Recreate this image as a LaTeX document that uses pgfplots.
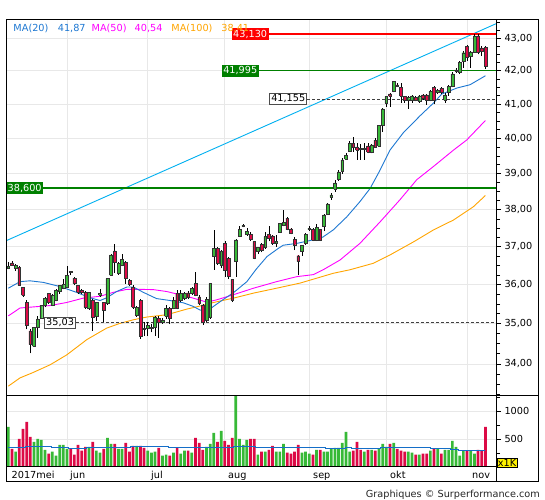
\documentclass[border=0pt]{standalone}
\usepackage{fontspec}
\setmainfont{DejaVu Sans}
\usepackage{pgfplots}
\usepackage{pgfplotstable}
\pgfplotsset{compat=1.18}
\definecolor{cg}{RGB}{55,185,55}
\definecolor{cr}{RGB}{220,10,70}
\definecolor{gridc}{RGB}{232,232,232}
\definecolor{ma20}{RGB}{30,120,210}
\definecolor{ma50}{RGB}{255,0,255}
\definecolor{ma100}{RGB}{255,165,0}
\definecolor{trend}{RGB}{0,176,240}
\definecolor{dgreen}{RGB}{0,128,0}
\definecolor{lred}{RGB}{255,0,0}
\definecolor{volma}{RGB}{20,110,200}
\newcommand\fs{\fontsize{9.7bp}{11bp}\selectfont}

\pgfplotstableread{
i O H L C V
0 36.43 36.59 36.40 36.48 720
1 36.57 36.61 36.48 36.50 327
2 36.42 36.54 36.37 36.50 274
3 36.46 36.48 35.97 35.98 506
4 35.94 35.95 35.68 35.73 684
5 35.55 35.60 34.86 34.95 809
6 34.82 34.86 34.26 34.48 541
7 34.43 34.92 34.43 34.91 452
8 34.91 35.19 34.65 35.12 506
9 35.14 35.48 35.13 35.47 488
10 35.47 35.68 35.42 35.64 309
11 35.77 35.79 35.51 35.55 238
12 35.48 35.77 35.45 35.73 274
13 35.60 35.90 35.57 35.86 202
14 35.83 36.00 35.77 35.98 399
15 35.90 36.16 35.88 36.00 399
16 35.94 36.50 35.92 36.24 327
17 36.35 36.37 36.24 36.31 327
18 36.17 36.20 35.98 36.03 220
19 35.98 36.00 35.77 35.81 399
20 35.86 35.90 35.75 35.80 292
21 35.81 35.83 35.38 35.42 363
22 35.38 35.82 35.35 35.80 363
23 35.60 35.62 34.82 35.17 452
24 35.19 35.56 35.08 35.54 292
25 35.74 35.90 35.68 35.77 256
26 35.54 35.55 35.04 35.34 327
27 35.51 36.17 35.48 36.16 524
28 36.24 36.80 36.23 36.78 416
29 36.89 37.06 36.31 36.59 416
30 36.29 36.59 36.26 36.55 327
31 36.52 36.80 36.48 36.67 327
32 36.59 36.63 36.03 36.16 434
33 36.11 36.14 35.97 36.00 274
34 35.94 35.98 35.38 35.42 381
35 35.21 35.45 35.18 35.42 381
36 35.60 35.64 34.62 34.69 381
37 34.88 35.04 34.69 34.86 345
38 34.88 35.04 34.70 34.95 292
39 34.89 34.99 34.78 34.91 256
40 34.91 35.19 34.69 35.17 274
41 35.14 35.19 34.65 35.05 345
42 35.04 35.15 35.00 35.08 202
43 35.19 35.48 35.12 35.38 220
44 35.40 35.42 34.99 35.14 202
45 35.38 35.68 35.36 35.60 256
46 35.77 35.86 35.36 35.38 345
47 35.60 35.86 35.55 35.77 238
48 35.64 35.82 35.60 35.77 292
49 35.79 35.83 35.64 35.68 292
50 35.77 35.94 35.73 35.90 256
51 36.03 36.33 35.70 35.73 524
52 35.68 35.73 35.47 35.51 434
53 35.48 35.51 34.97 35.04 309
54 35.08 35.68 35.05 35.62 363
55 35.17 36.03 35.12 36.03 416
56 36.74 37.46 36.39 36.96 613
57 36.96 37.00 36.52 36.56 452
58 36.52 36.90 36.43 36.87 649
59 37.09 37.14 36.21 36.39 470
60 36.69 36.72 36.14 36.21 399
61 36.13 36.15 35.55 35.60 524
62 36.61 37.20 36.21 37.18 1400
63 37.29 37.55 37.26 37.46 506
64 37.54 37.62 37.52 37.58 399
65 37.33 37.50 37.30 37.42 488
66 37.34 37.40 37.15 37.19 506
67 37.14 37.16 36.66 36.69 506
68 36.87 37.00 36.80 36.98 220
69 37.06 37.10 36.85 36.91 274
70 36.98 37.40 36.95 37.27 274
71 37.32 37.55 37.14 37.23 309
72 37.29 37.31 37.05 37.09 381
73 37.09 37.32 37.00 37.15 274
74 37.40 37.64 37.38 37.62 274
75 37.59 37.99 37.55 37.66 416
76 37.77 37.80 37.44 37.46 256
77 37.48 37.50 37.33 37.35 238
78 37.20 37.27 36.91 37.05 274
79 36.76 36.78 36.24 36.61 399
80 36.87 37.05 36.76 37.03 256
81 37.09 37.36 37.05 37.34 274
82 37.46 37.55 37.42 37.50 238
83 37.46 37.50 37.15 37.18 220
84 37.18 37.62 37.15 37.52 309
85 37.46 37.48 37.15 37.18 309
86 37.54 37.88 37.42 37.86 274
87 37.89 38.18 37.85 38.16 274
88 38.36 38.45 38.27 38.41 327
89 38.58 38.82 38.50 38.74 345
90 38.83 39.12 38.80 39.05 345
91 39.08 39.45 39.00 39.39 434
92 39.42 39.60 39.40 39.53 631
93 39.65 39.93 39.62 39.87 274
94 39.87 40.05 39.62 39.76 292
95 39.76 39.87 39.39 39.68 452
96 39.72 39.85 39.40 39.70 309
97 39.70 39.88 39.40 39.73 274
98 39.79 39.86 39.58 39.62 309
99 39.62 39.85 39.58 39.82 309
100 39.96 40.00 39.74 39.76 292
101 39.79 40.40 39.76 40.37 327
102 40.37 40.89 40.20 40.86 416
103 41.03 41.25 40.92 41.23 363
104 41.31 41.33 40.92 41.23 416
105 41.38 41.70 41.35 41.68 434
106 41.58 41.62 41.50 41.53 327
107 41.51 41.63 41.05 41.25 292
108 41.23 41.25 41.05 41.13 274
109 41.13 41.25 40.87 41.21 274
110 41.13 41.28 41.05 41.25 256
111 41.20 41.23 41.08 41.13 220
112 41.10 41.28 41.05 41.25 220
113 41.28 41.30 41.13 41.18 238
114 41.28 41.30 40.98 41.13 238
115 41.13 41.42 41.08 41.38 292
116 41.51 41.55 41.00 41.13 327
117 41.36 41.45 41.30 41.41 327
118 41.48 41.50 41.30 41.36 238
119 41.13 41.33 41.05 41.28 309
120 41.36 41.56 41.25 41.53 309
121 41.53 41.95 41.50 41.91 470
122 42.00 42.08 41.93 42.03 363
123 41.96 42.30 41.90 42.26 202
124 42.28 42.60 42.10 42.55 292
125 42.75 42.80 42.30 42.40 292
126 42.45 42.60 42.10 42.58 292
127 42.57 43.13 42.55 43.07 238
128 43.07 43.13 42.50 42.57 309
129 42.70 42.75 42.45 42.60 292
130 42.72 42.75 42.05 42.13 720
}\ohlc

\pgfplotstableread{
i ma
0 35.91
3.2 36.08
5.9 36.10
9.5 36.06
14.1 35.95
18.6 35.80
22.3 35.66
25.0 35.59
26.8 35.66
29.5 35.82
32.3 35.94
34.1 35.94
36.8 35.80
40.4 35.64
44.1 35.59
47.7 35.53
50.4 35.44
52.2 35.35
54.1 35.31
55.9 35.44
58.6 35.62
61.3 35.79
65.0 36.08
67.5 36.40
70.5 36.74
73.5 36.95
74.9 37.04
78.6 37.09
83.0 37.18
85.7 37.26
88.5 37.45
92.2 37.80
95.8 38.22
98.6 38.59
101.3 39.10
104.0 39.67
107.6 40.16
112.2 40.66
115.8 41.03
118.1 41.30
122.2 41.48
125.8 41.58
130 41.85
}\maA

\pgfplotstableread{
i ma
0 35.20
3.2 35.40
5.9 35.42
11.4 35.46
15.9 35.54
20.4 35.65
25.0 35.70
28.6 35.80
32.3 35.88
35.9 35.88
39.5 35.87
43.2 35.82
46.8 35.74
50.4 35.65
54.1 35.55
56.8 35.61
61.3 35.74
66.8 35.91
73.1 36.08
78.6 36.21
83.1 36.26
85.8 36.39
90.4 36.65
95.8 37.09
101.3 37.67
106.7 38.27
111.3 38.83
115.8 39.20
121.3 39.67
124.9 39.96
130 40.52
}\maB

\pgfplotstableread{
i ma
0 33.46
3.2 33.66
6.8 33.79
11.4 33.98
15.9 34.22
21.4 34.60
26.8 34.89
30.4 35.01
34.1 35.10
37.7 35.17
43.2 35.23
48.6 35.37
52.2 35.45
55.9 35.54
61.3 35.65
66.8 35.78
73.1 35.91
79.5 36.04
88.6 36.30
93.1 36.39
99.5 36.56
104.0 36.78
110.4 37.13
115.8 37.45
121.3 37.72
126.7 38.08
130 38.39
}\maC

\begin{document}
\begin{tikzpicture}[x=1bp,y=1bp]
\useasboundingbox (0,0) rectangle (545,500);
\fill[white] (0,0) rectangle (545,500);

% ---------------- price panel ----------------
\begin{axis}[
  at={(6bp,104.3bp)}, anchor=south west,
  width=490bp, height=375.7bp, scale only axis,
  ymode=log,
  xmin=-0.627, xmax=132.89, ymin=33.23, ymax=43.57,
  axis line style={draw=none},
  xtick={16,38,59,82,103,125}, xticklabels={},
  xtick style={draw=none},
  xmajorgrids, ymajorgrids,
  grid style={line width=0.8bp, color=gridc},
  ytick={34,35,36,37,38,39,40,41,42,43},
  yticklabels={{34,00},{35,00},{36,00},{37,00},{38,00},{39,00},{40,00},{41,00},{42,00},{43,00}},
  minor ytick={33.25,33.5,33.75,34.25,34.5,34.75,35.25,35.5,35.75,36.25,36.5,36.75,37.25,37.5,37.75,38.25,38.5,38.75,39.25,39.5,39.75,40.25,40.5,40.75,41.25,41.5,41.75,42.25,42.5,42.75,43.25,43.5},
  ytick pos=right, yticklabel pos=right,
  tick align=outside,
  major tick length=5bp, minor tick length=4bp,
  ytick style={black, line width=0.8bp},
  yticklabel style={font=\fs, text=black},
]
\addplot[ma100, line width=0.9bp] table[x=i,y=ma] {\maC};
\addplot[ma50, line width=0.9bp] table[x=i,y=ma] {\maB};
\addplot[ma20, line width=0.9bp] table[x=i,y=ma] {\maA};
\addplot[trend, line width=0.9bp] coordinates {(-0.627,37.16) (132.89,43.45)};
\addplot[dgreen, line width=2.7bp] coordinates {(-0.627,38.6) (132.89,38.6)};
\addplot[lred, line width=2bp] coordinates {(71.0,43.13) (132.89,43.13)};
\addplot[dgreen, line width=1bp] coordinates {(68.3,41.995) (132.89,41.995)};
\addplot[black!75, line width=0.8bp, dash pattern=on 3bp off 2bp] coordinates {(81.4,41.155) (132.89,41.155)};
\addplot[black!75, line width=0.8bp, dash pattern=on 3bp off 2bp] coordinates {(18.4,35.03) (132.89,35.03)};

\pgfplotsforeachungrouped \r in {0,...,130}{%
  \pgfplotstablegetelem{\r}{i}\of\ohlc \let\ci\pgfplotsretval
  \pgfplotstablegetelem{\r}{O}\of\ohlc \let\co\pgfplotsretval
  \pgfplotstablegetelem{\r}{H}\of\ohlc \let\ch\pgfplotsretval
  \pgfplotstablegetelem{\r}{L}\of\ohlc \let\cl\pgfplotsretval
  \pgfplotstablegetelem{\r}{C}\of\ohlc \let\cc\pgfplotsretval
  \ifdim\cc pt<\co pt \def\fc{cr}\let\bl\cc\let\bh\co\else\def\fc{cg}\let\bl\co\let\bh\cc\fi
  \pgfmathsetmacro\xa{\ci-0.38}\pgfmathsetmacro\xb{\ci+0.38}%
  \edef\tmp{\noexpand\addplot[black, line width=0.6bp] coordinates {(\ci,\cl) (\ci,\ch)};
    \noexpand\addplot[draw=black!80, fill=\fc, line width=0.45bp] coordinates {(\xa,\bl) (\xb,\bl) (\xb,\bh) (\xa,\bh) (\xa,\bl)};}%
  \tmp
}

\node[fill=lred, text=white, font=\fs, anchor=east, inner xsep=1.5bp, inner ysep=1.5bp] at (axis cs:71.0,43.13) {43,130};
\node[fill=dgreen, text=white, font=\fs, anchor=east, inner xsep=1.5bp, inner ysep=1.5bp] at (axis cs:68.3,41.995) {41,995};
\node[fill=white, draw=black!70, line width=0.7bp, text=black, font=\fs, anchor=east, inner xsep=1.5bp, inner ysep=1.5bp] at (axis cs:81.4,41.155) {41,155};
\node[fill=dgreen, text=white, font=\fs, anchor=west, inner xsep=1.5bp, inner ysep=1.5bp] at (axis cs:-0.627,38.6) {38,600};
\node[fill=white, draw=black!70, line width=0.7bp, text=black, font=\fs, anchor=east, inner xsep=1.5bp, inner ysep=1.5bp] at (axis cs:18.4,35.03) {35,03};
\end{axis}

% ---------------- volume panel ----------------
\begin{axis}[
  at={(6bp,33bp)}, anchor=south west,
  width=490bp, height=71.3bp, scale only axis,
  xmin=-0.627, xmax=132.89, ymin=0, ymax=1280,
  axis line style={draw=none},
  xtick={16,38,59,82,103,125}, xticklabels={},
  xtick style={draw=none},
  xmajorgrids, ymajorgrids,
  grid style={line width=0.8bp, color=gridc},
  ytick={500,1000}, yticklabels={500,1000},
  minor ytick={250,750,1250},
  ytick pos=right, yticklabel pos=right,
  tick align=outside,
  major tick length=5bp, minor tick length=4bp,
  ytick style={black, line width=0.8bp},
  yticklabel style={font=\fs, text=black},
]
\pgfplotsforeachungrouped \r in {0,...,130}{%
  \pgfplotstablegetelem{\r}{i}\of\ohlc \let\ci\pgfplotsretval
  \pgfplotstablegetelem{\r}{O}\of\ohlc \let\co\pgfplotsretval
  \pgfplotstablegetelem{\r}{C}\of\ohlc \let\cc\pgfplotsretval
  \pgfplotstablegetelem{\r}{V}\of\ohlc \let\cv\pgfplotsretval
  \ifdim\cc pt<\co pt \def\fc{cr}\else\def\fc{cg}\fi
  \pgfmathsetmacro\xa{\ci-0.37}\pgfmathsetmacro\xb{\ci+0.37}%
  \edef\tmp{\noexpand\addplot[draw=none, fill=\fc] coordinates {(\xa,0) (\xb,0) (\xb,\cv) (\xa,\cv) (\xa,0)};}%
  \tmp
}
\addplot[volma, line width=1.1bp, const plot] coordinates {(0,357) (4.6,375) (11.8,357) (16.4,339) (21.4,357) (33.2,375) (43.6,357) (61.4,375) (67.3,357) (86.4,339) (91.8,357) (93.6,339) (101.4,357) (115,339) (120.5,321) (122.7,298) (130,298)};
\end{axis}

% ---------------- frame ----------------
\draw[black, line width=1bp] (6,18.3) rectangle (538.3,480);
\draw[black, line width=1bp] (6,104.3) -- (538.3,104.3);
\draw[black, line width=1bp] (496,18.3) -- (496,480);
\draw[black, line width=1bp] (6,33) -- (496,33);

\node[draw=black, fill=yellow, font=\fs, inner sep=1bp, anchor=north west] at (496.7,42) {x1K};

% month labels
\foreach \xx/\tt in {11.5/2017mei, 70/jun, 151/jul, 228/aug, 313/sep, 390/okt, 472/nov}{
  \node[font=\fs, anchor=base west, inner sep=0pt] at (\xx,21) {\tt};
}

% MA legend
\node[font=\fs, text=ma20, anchor=base west, inner sep=0pt] at (13.3,468.5) {MA(20)};
\node[font=\fs, text=ma20, anchor=base west, inner sep=0pt] at (57.7,468.5) {41,87};
\node[font=\fs, text=ma50, anchor=base west, inner sep=0pt] at (91.5,468.5) {MA(50)};
\node[font=\fs, text=ma50, anchor=base west, inner sep=0pt] at (134.5,468.5) {40,54};
\node[font=\fs, text=ma100, anchor=base west, inner sep=0pt] at (171.2,468.5) {MA(100)};
\node[font=\fs, text=ma100, anchor=base west, inner sep=0pt] at (221.2,468.5) {38,41};

\node[font=\fs, text=black!85, anchor=base east, inner sep=0pt] at (540,2) {Graphiques © Surperformance.com};
\end{tikzpicture}
\end{document}
